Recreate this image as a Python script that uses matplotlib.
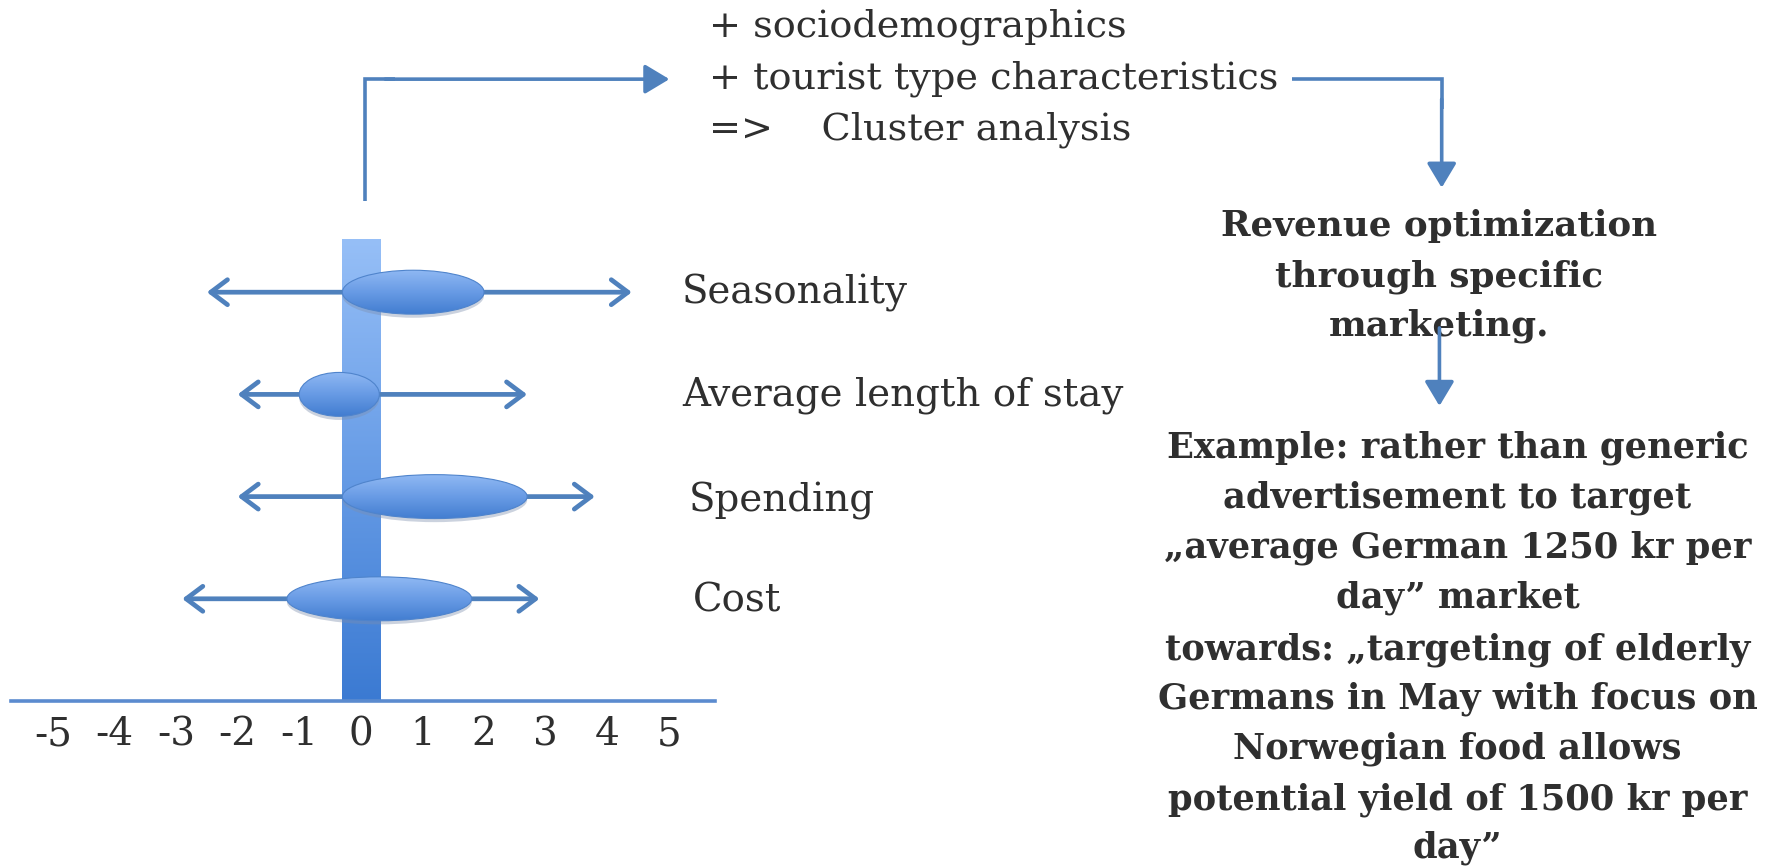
import matplotlib
matplotlib.use("Agg")
import matplotlib.pyplot as plt
import numpy as np
from matplotlib.patches import Ellipse
from matplotlib.colors import LinearSegmentedColormap

# ---------------- data ----------------
factors = ["Seasonality", "Average length of stay", "Spending", "Cost"]
row_pos = [4, 3, 2, 1]
range_low = [-2.5, -2.0, -2.0, -2.9]
range_high = [4.4, 2.7, 3.8, 2.9]
core_low = [-0.3, -1.0, -0.3, -1.2]
core_high = [2.0, 0.3, 2.7, 1.8]
tick_values = [-5, -4, -3, -2, -1, 0, 1, 2, 3, 4, 5]
tick_labels = ["-5", "-4", "-3", "-2", "-1", "0", "1", "2", "3", "4", "5"]
bar_height = 4.52

top_lines = ["+ sociodemographics", "+ tourist type characteristics", "=>    Cluster analysis"]
revenue_lines = ["Revenue optimization", "through specific", "marketing."]
example_lines = [
    "Example: rather than generic",
    "advertisement to target",
    "\u201eaverage German 1250 kr per",
    "day\u201d market",
    "towards: \u201etargeting of elderly",
    "Germans in May with focus on",
    "Norwegian food allows",
    "potential yield of 1500 kr per",
    "day\u201d",
]

# ---------------- style ----------------
W, H = 1773, 868
TEXT = "#2f2f2f"
ARROW = "#4f81bd"
AXIS = "#5b8bcf"
SERIF = "DejaVu Serif"

fig = plt.figure(figsize=(W / 100, H / 100), dpi=100)
renderer = fig.canvas.get_renderer()


def fx(x):
    return x / W


def fy(y):
    return 1 - y / H


# ---------------- left chart ----------------
x_min, x_max = -5.68, 5.75
y_max = 4.8
ax_left_px, ax_right_px = 11, 715
ax_bottom_px = 701
unit_y_px = 102.2
ax_top_px = ax_bottom_px - y_max * unit_y_px
ax = fig.add_axes([fx(ax_left_px), fy(ax_bottom_px),
                   (ax_right_px - ax_left_px) / W, (ax_bottom_px - ax_top_px) / H])

# vertical bar at zero with gradient
bar = ax.bar(0, bar_height, width=0.62, color="none", edgecolor="none", zorder=1)[0]
cmap_bar = LinearSegmentedColormap.from_list("bar", ["#3b7ad2", "#679ce6", "#96bff7"])
grad = np.linspace(0, 1, 256).reshape(-1, 1)
im = ax.imshow(grad, extent=(-0.31, 0.31, 0, bar_height), origin="lower",
               cmap=cmap_bar, aspect="auto", zorder=1)
im.set_clip_path(bar)

cmap_ell = LinearSegmentedColormap.from_list("ell", ["#427dd0", "#689be5", "#8fb8f3"])
ell_h = 0.43
for name, y, lo, hi, clo, chi in zip(factors, row_pos, range_low, range_high, core_low, core_high):
    ax.annotate("", xy=(hi, y), xytext=(lo, y),
                arrowprops=dict(arrowstyle="<->,head_length=0.6,head_width=0.45",
                                lw=3.4, color=ARROW, shrinkA=0, shrinkB=0,
                                mutation_scale=20), zorder=2)
    cx, w = (clo + chi) / 2, chi - clo
    shadow = Ellipse((cx, y - 0.035), w, ell_h, facecolor="#7d8fae", alpha=0.4,
                     edgecolor="none", zorder=3)
    ax.add_patch(shadow)
    e = Ellipse((cx, y), w, ell_h, facecolor="none", edgecolor="#4f84cc", lw=0.8, zorder=5)
    ax.add_patch(e)
    gi = ax.imshow(grad, extent=(clo, chi, y - ell_h / 2, y + ell_h / 2), origin="lower",
                   cmap=cmap_ell, aspect="auto", zorder=4)
    gi.set_clip_path(e)

ax.set_xlim(x_min, x_max)
ax.set_ylim(0, y_max)
for s in ["top", "right", "left"]:
    ax.spines[s].set_visible(False)
ax.spines["bottom"].set_color(AXIS)
ax.spines["bottom"].set_linewidth(2.6)
ax.set_yticks([])
ax.set_xticks(tick_values)
ax.set_xticklabels(tick_labels, fontfamily=SERIF, fontsize=28, color=TEXT)
ax.tick_params(axis="x", length=0, pad=11)
ax.patch.set_alpha(0)


# ---------------- texts ----------------
def fit_block(lines, xs, baselines, ha, ref_idx, target_w, weight="normal"):
    texts = []
    for line, x, yb in zip(lines, xs, baselines):
        t = fig.text(fx(x), fy(yb), line, ha=ha, va="baseline", fontsize=20,
                     fontfamily=SERIF, fontweight=weight, color=TEXT)
        texts.append(t)
    bb = texts[ref_idx].get_window_extent(renderer)
    size = 20 * target_w / bb.width
    for t in texts:
        t.set_fontsize(size)
    return texts


S = 1773 / 1568  # shrunk -> full conversion for layout constants

# top block
fit_block(top_lines, [627 * S] * 3, [32 * S, 78 * S, 123 * S], "left", 1, 503 * S)
# left factor labels
fit_block(factors, [603 * S, 603 * S, 609 * S, 613 * S],
          [268 * S, 359 * S, 452 * S, 541 * S], "left", 1, 390 * S)
# revenue block
fit_block(revenue_lines, [1273 * S] * 3, [209 * S, 253 * S, 297 * S], "center", 0,
          386 * S, weight="bold")
# example block
ex_base = [405, 449, 493, 537, 583, 627, 671, 716, 758]
fit_block(example_lines, [1289 * S] * len(example_lines), [b * S for b in ex_base],
          "center", 5, 530 * S, weight="bold")

# ---------------- connectors ----------------
ov = fig.add_axes([0, 0, 1, 1], zorder=10)
ov.set_xlim(0, W)
ov.set_ylim(H, 0)
ov.axis("off")
ov.patch.set_alpha(0)
lw_c = 2.6
hs = "-|>,head_length=0.75,head_width=0.45"

# arrow 1: up from bar, then right
x1, y1top, y1bot, x1end = 323 * S, 70 * S, 178 * S, 592 * S
ov.plot([x1, x1, x1 + 30], [y1bot, y1top, y1top], color=ARROW, lw=lw_c,
        solid_joinstyle="miter", solid_capstyle="butt")
ov.annotate("", xy=(x1end, y1top), xytext=(x1 + 20, y1top),
            arrowprops=dict(arrowstyle=hs, lw=lw_c, color=ARROW, shrinkA=0, shrinkB=0,
                            mutation_scale=20))

# arrow 2: right then down
x2s, x2e, y2, y2end = 1143 * S, 1275 * S, 70 * S, 166 * S
ov.plot([x2s, x2e, x2e], [y2, y2, y2 + 30], color=ARROW, lw=lw_c,
        solid_joinstyle="miter", solid_capstyle="butt")
ov.annotate("", xy=(x2e, y2end), xytext=(x2e, y2 + 20),
            arrowprops=dict(arrowstyle=hs, lw=lw_c, color=ARROW, shrinkA=0, shrinkB=0,
                            mutation_scale=20))

# arrow 3: straight down
x3, y3s, y3e = 1273 * S, 290 * S, 359 * S
ov.annotate("", xy=(x3, y3e), xytext=(x3, y3s),
            arrowprops=dict(arrowstyle=hs, lw=lw_c, color=ARROW, shrinkA=0, shrinkB=0,
                            mutation_scale=20))

fig.savefig("out.png", dpi=100, facecolor="white")
